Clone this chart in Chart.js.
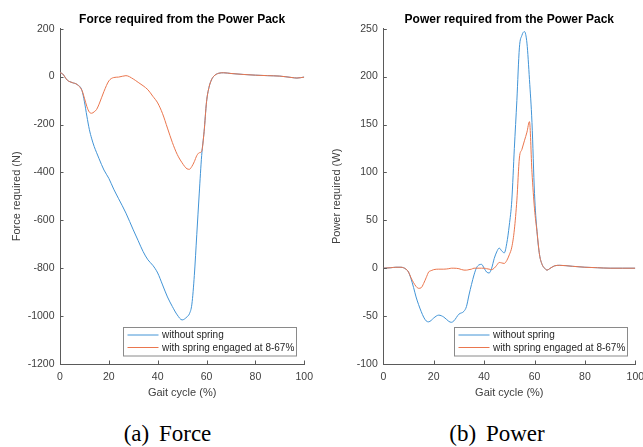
<!DOCTYPE html>
<html>
<head>
<meta charset="utf-8">
<script src="https://cdn.jsdelivr.net/npm/chart.js@4/dist/chart.umd.min.js"></script>
<style>
  html, body { margin: 0; padding: 0; background: #fff; overflow: hidden; }
  #wrap { position: relative; width: 643px; height: 447px; overflow: hidden; }
  canvas { position: absolute; top: 0; }
  .cap { position: absolute; top: 421.7px; font-family: "Liberation Serif", "Times New Roman", serif;
         font-size: 23px; line-height: 23px; white-space: pre; transform: translateX(-50%); color: #000; }
  .cap span { margin-left: 4px; }
</style>
</head>
<body>
<div id="wrap">
  <canvas id="force" width="320" height="405" style="left:0"></canvas>
  <canvas id="power" width="340" height="405" style="left:320px"></canvas>
  <div class="cap" style="left:167.5px">(a) <span>Force</span></div>
  <div class="cap" style="left:497px">(b) <span>Power</span></div>
</div>
<script>
// gait cycle positions (%) and values
const forceX = [0,1,3,5,7,9,10,11,12,13,14,15,16,18,20,22,24,27,30,32,34,36,38,40,42,44,46,48,50,52,53,54,55,56,57,58,59,60,61,62,63,65,67,70,75,80,85,90,95,97,100];
const forceWithout = [16,12,-15,-25,-33,-58,-105,-165,-220,-260,-292,-318,-343,-390,-425,-470,-510,-570,-640,-685,-730,-765,-788,-820,-870,-920,-960,-995,-1016,-1003,-990,-950,-830,-660,-490,-330,-230,-105,-45,-14,2,14,16,13,9,6,4,2,-4,-6,-2];
const forceWith = [16,12,-15,-25,-33,-58,-90,-125,-148,-153,-147,-137,-115,-62,-18,-4,-2,4,-10,-24,-38,-55,-82,-110,-155,-215,-275,-325,-360,-385,-387,-375,-355,-330,-318,-312,-230,-105,-45,-14,2,14,16,13,9,6,4,2,-4,-6,-2];

const powerX = [0,3,5,7,9,10,11,12,13,14,15,16,17,18,19,20,22,24,26,27,28,30,32,33,34,35,36,37,38,39,40,41,42,43,44,45,46,47,48,49,50,51,52,53,54,55,56,57,58,59,60,61,62,63,64,65,66,68,70,75,80,85,90,95,100];
const powerWithout = [0,0.5,1,1,-1,-4,-11,-20,-30,-38,-45,-51,-55,-56,-54.5,-52,-49,-51,-55.5,-56.5,-55,-48,-45,-40,-28,-17,-7,0.5,3.5,4,0,-4,-5,0,10,17,21,18,16,26,45,71,125,175,230,243,247,235,197,152,78,38,14,4,0,-2,-0.5,2.5,3,2,1,0.5,0,0,0];
const powerWith = [0,0.5,1,1,-1,-4,-10,-15,-19,-21,-20.5,-16,-10,-4,-2.5,-1.5,-1,-1,-0.5,0,0,-0.5,-2,-2,-1.5,-1,0,0,0,0,0,-0.5,-1,-1.5,0,3,6,5.5,5,8,14,22,40,71,115,124,133,142,153,100,62,38,14,4,0,-2,-0.5,2.5,3,2,1,0.5,0,0,0];

const gaitTicks = [0,20,40,60,80,100];
const forceTicks = [-1200,-1000,-800,-600,-400,-200,0,200];
const powerTicks = [-100,-50,0,50,100,150,200,250];

const seriesNames = ['without spring', 'with spring engaged at 8-67%'];
const blue = 'rgb(66,148,214)';
const orange = 'rgb(234,118,78)';
const axisColor = '#5a5a5a';
const textColor = '#404040';
const sans = '"Liberation Sans", Arial, sans-serif';

function pts(xs, ys) { return xs.map((x, i) => ({x: x, y: ys[i]})); }

// MATLAB style ticks pointing into the axes
const innerTicks = {
  id: 'innerTicks',
  afterDraw(chart) {
    const ctx = chart.ctx, a = chart.chartArea;
    const xs = chart.scales.x, ys = chart.scales.y;
    ctx.save();
    ctx.strokeStyle = axisColor;
    ctx.lineWidth = 1;
    ctx.beginPath();
    xs.ticks.forEach(t => {
      const px = Math.round(xs.getPixelForValue(t.value)) + 0.5;
      ctx.moveTo(px, a.bottom); ctx.lineTo(px, a.bottom - 3.5);
    });
    ys.ticks.forEach(t => {
      const py = Math.round(ys.getPixelForValue(t.value)) + 0.5;
      ctx.moveTo(a.left, py); ctx.lineTo(a.left + 3.5, py);
    });
    ctx.stroke();
    ctx.restore();
  }
};

// legend box in the lower right corner of the plot
const boxLegend = {
  id: 'boxLegend',
  afterDraw(chart) {
    const ctx = chart.ctx, a = chart.chartArea;
    const w = 173, h = 28.5;
    const left = Math.round(a.right - 8.5 - w) + 0.5;
    const top = Math.round(a.bottom - 9 - h) + 0.5;
    ctx.save();
    ctx.fillStyle = '#fff';
    ctx.fillRect(left, top, w, h);
    ctx.strokeStyle = '#8a8a8a';
    ctx.lineWidth = 1;
    ctx.strokeRect(left, top, w, h);
    ctx.font = '10px ' + sans;
    ctx.textBaseline = 'middle';
    ctx.fillStyle = '#262626';
    chart.data.datasets.forEach((ds, i) => {
      const y = top + 7.5 + i * 12.5;
      ctx.strokeStyle = ds.borderColor;
      ctx.beginPath();
      ctx.moveTo(left + 4, y); ctx.lineTo(left + 35, y);
      ctx.stroke();
      ctx.fillText(ds.label, left + 38.5, y + 0.5);
    });
    ctx.restore();
  }
};

function makeChart(id, title, yTitle, xs, without, withSpring, yTicks, yWidth, padRight) {
  return new Chart(document.getElementById(id), {
    type: 'line',
    data: {
      datasets: [
        { label: seriesNames[0], data: pts(xs, without), borderColor: blue, borderWidth: 1, order: 1,
          pointRadius: 0, cubicInterpolationMode: 'monotone', fill: false },
        { label: seriesNames[1], data: pts(xs, withSpring), borderColor: orange, borderWidth: 1, order: 0,
          pointRadius: 0, cubicInterpolationMode: 'monotone', fill: false }
      ]
    },
    options: {
      responsive: false,
      animation: false,
      layout: { padding: { left: 0, right: padRight, top: 0, bottom: 0 } },
      plugins: {
        legend: { display: false },
        tooltip: { enabled: false },
        title: {
          display: true, text: title, fullSize: false, color: '#000',
          font: { family: sans, size: 12, weight: 'bold' },
          padding: { top: 12.5, bottom: 1.8 }
        }
      },
      scales: {
        x: {
          type: 'linear', min: 0, max: 100,
          afterBuildTicks: s => { s.ticks = gaitTicks.map(v => ({value: v})); },
          afterFit: s => { s.height = 41; },
          grid: { drawOnChartArea: false, drawTicks: false },
          border: { display: true, color: axisColor, width: 1 },
          ticks: { color: textColor, padding: 7, maxRotation: 0, font: { family: sans, size: 10.5 },
                   callback: v => String(v) },
          title: { display: true, text: 'Gait cycle (%)', color: textColor,
                   font: { family: sans, size: 11 }, padding: { top: 0, bottom: 5 } }
        },
        y: {
          min: yTicks[0], max: yTicks[yTicks.length - 1],
          afterBuildTicks: s => { s.ticks = yTicks.map(v => ({value: v})); },
          afterFit: s => { s.width = yWidth; },
          grid: { drawOnChartArea: false, drawTicks: false },
          border: { display: true, color: axisColor, width: 1 },
          ticks: { color: textColor, padding: 5.5, font: { family: sans, size: 10.5 },
                   callback: v => String(v) },
          title: { display: true, text: yTitle, color: textColor,
                   font: { family: sans, size: 11 }, padding: { top: 10, bottom: 0 } }
        }
      }
    },
    plugins: [innerTicks, boxLegend]
  });
}

makeChart('force', 'Force required from the Power Pack', 'Force required (N)',
  forceX, forceWithout, forceWith, forceTicks, 60, 14);
makeChart('power', 'Power required from the Power Pack', 'Power required (W)',
  powerX, powerWithout, powerWith, powerTicks, 63.3, 24.7);
</script>
</body>
</html>
